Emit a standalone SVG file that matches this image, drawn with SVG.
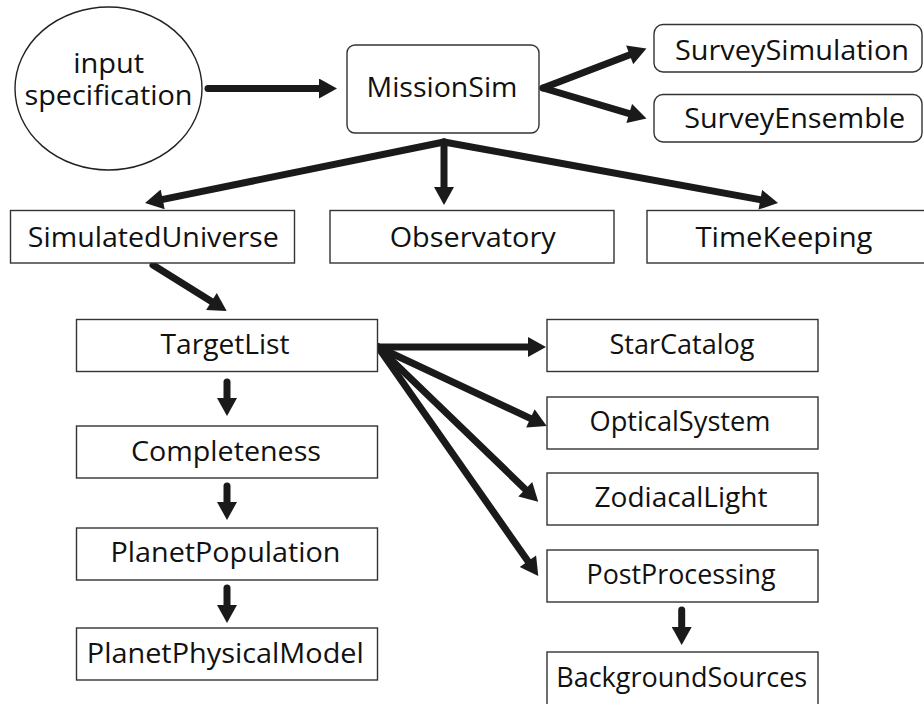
<svg xmlns="http://www.w3.org/2000/svg" width="924" height="704" viewBox="0 0 924 704">
<style>
.box{fill:#fff;stroke:#333;stroke-width:1.4}
.lbl{font-family:"Open Sans","Noto Sans","Liberation Sans",sans-serif;font-size:28px;fill:#111;text-anchor:middle}
.arr{stroke:#1a1a1a;stroke-width:7;fill:none;stroke-linecap:round;marker-end:url(#ah)}
</style>
<defs>
<marker id="ah" markerUnits="userSpaceOnUse" markerWidth="20" markerHeight="20" viewBox="0 0 18 20" refX="1" refY="10" orient="auto">
<path d="M0,0 L18,10 L0,20 z" fill="#1a1a1a"/>
</marker>
</defs>
<rect width="924" height="704" fill="#fff"/>
<g id="connectors">
<line class="arr" x1="208" y1="88.5" x2="320" y2="88.5"/>
<line class="arr" x1="543" y1="88" x2="630.6" y2="54.5"/>
<line class="arr" x1="543" y1="88" x2="630.2" y2="113.8"/>
<line class="arr" x1="444" y1="142" x2="161.7" y2="199.6"/>
<line class="arr" x1="444" y1="142" x2="444" y2="188"/>
<line class="arr" x1="444" y1="142" x2="761.3" y2="199.9"/>
<line class="arr" x1="153" y1="265" x2="212.3" y2="302"/>
<line class="arr" x1="227" y1="382" x2="227" y2="399"/>
<line class="arr" x1="227" y1="486" x2="227" y2="503"/>
<line class="arr" x1="227" y1="588" x2="227" y2="606"/>
<line class="arr" x1="378" y1="347" x2="529" y2="347"/>
<line class="arr" x1="378" y1="347" x2="531.3" y2="418.8"/>
<line class="arr" x1="378" y1="347" x2="526" y2="489.9"/>
<line class="arr" x1="378" y1="347" x2="528.5" y2="562.1"/>
<line class="arr" x1="681.7" y1="610" x2="681.7" y2="628"/>
</g>
<g id="input">
<ellipse cx="108.5" cy="88.5" rx="93.5" ry="81.5" fill="#fff" stroke="#222" stroke-width="1.4"/>
<text class="lbl" x="108.7" y="73" style="font-size:27px" textLength="71" lengthAdjust="spacingAndGlyphs">input</text>
<text class="lbl" x="108.5" y="105" style="font-size:27px" textLength="168" lengthAdjust="spacingAndGlyphs">specification</text>
</g>
<g id="MissionSim">
<rect class="box" x="347" y="45" width="192" height="88" rx="8"/>
<text class="lbl" x="442" y="97" textLength="151" lengthAdjust="spacingAndGlyphs">MissionSim</text>
</g>
<g id="SurveySimulation">
<rect class="box" x="654" y="24.5" width="268" height="47.5" rx="9"/>
<text class="lbl" x="792" y="59.5" textLength="234" lengthAdjust="spacingAndGlyphs">SurveySimulation</text>
</g>
<g id="SurveyEnsemble">
<rect class="box" x="654" y="94.5" width="268" height="47.5" rx="9"/>
<text class="lbl" x="794.7" y="128" textLength="221" lengthAdjust="spacingAndGlyphs">SurveyEnsemble</text>
</g>
<g id="SimulatedUniverse">
<rect class="box" x="10.5" y="210.5" width="284" height="52.5"/>
<text class="lbl" x="153.3" y="246.7" textLength="251" lengthAdjust="spacingAndGlyphs">SimulatedUniverse</text>
</g>
<g id="Observatory">
<rect class="box" x="330" y="210.5" width="284" height="52.5"/>
<text class="lbl" x="472.7" y="246.7" textLength="166" lengthAdjust="spacingAndGlyphs">Observatory</text>
</g>
<g id="TimeKeeping">
<rect class="box" x="647" y="210.5" width="282" height="52.5"/>
<text class="lbl" x="784" y="246.7" textLength="177" lengthAdjust="spacingAndGlyphs">TimeKeeping</text>
</g>
<g id="TargetList">
<rect class="box" x="76.5" y="319.5" width="301" height="52"/>
<text class="lbl" x="225" y="354" textLength="129" lengthAdjust="spacingAndGlyphs">TargetList</text>
</g>
<g id="Completeness">
<rect class="box" x="76.5" y="426" width="301" height="52"/>
<text class="lbl" x="226" y="460.7" textLength="190" lengthAdjust="spacingAndGlyphs">Completeness</text>
</g>
<g id="PlanetPopulation">
<rect class="box" x="76.5" y="528" width="301" height="52"/>
<text class="lbl" x="225.5" y="562.3" textLength="230" lengthAdjust="spacingAndGlyphs">PlanetPopulation</text>
</g>
<g id="PlanetPhysicalModel">
<rect class="box" x="76.5" y="628" width="301" height="52"/>
<text class="lbl" x="225.3" y="662.7" textLength="277" lengthAdjust="spacingAndGlyphs">PlanetPhysicalModel</text>
</g>
<g id="StarCatalog">
<rect class="box" x="547" y="319.5" width="271" height="52"/>
<text class="lbl" x="682" y="354" textLength="145" lengthAdjust="spacingAndGlyphs">StarCatalog</text>
</g>
<g id="OpticalSystem">
<rect class="box" x="547" y="397" width="271" height="52"/>
<text class="lbl" x="680" y="431" textLength="181" lengthAdjust="spacingAndGlyphs">OpticalSystem</text>
</g>
<g id="ZodiacalLight">
<rect class="box" x="547" y="473" width="271" height="52"/>
<text class="lbl" x="681" y="506.7" textLength="173" lengthAdjust="spacingAndGlyphs">ZodiacalLight</text>
</g>
<g id="PostProcessing">
<rect class="box" x="547" y="550" width="271" height="52"/>
<text class="lbl" x="681" y="584.3" textLength="189" lengthAdjust="spacingAndGlyphs">PostProcessing</text>
</g>
<g id="BackgroundSources">
<rect class="box" x="547" y="652" width="271" height="54"/>
<text class="lbl" x="681.7" y="686.7" textLength="251" lengthAdjust="spacingAndGlyphs">BackgroundSources</text>
</g>
</svg>
